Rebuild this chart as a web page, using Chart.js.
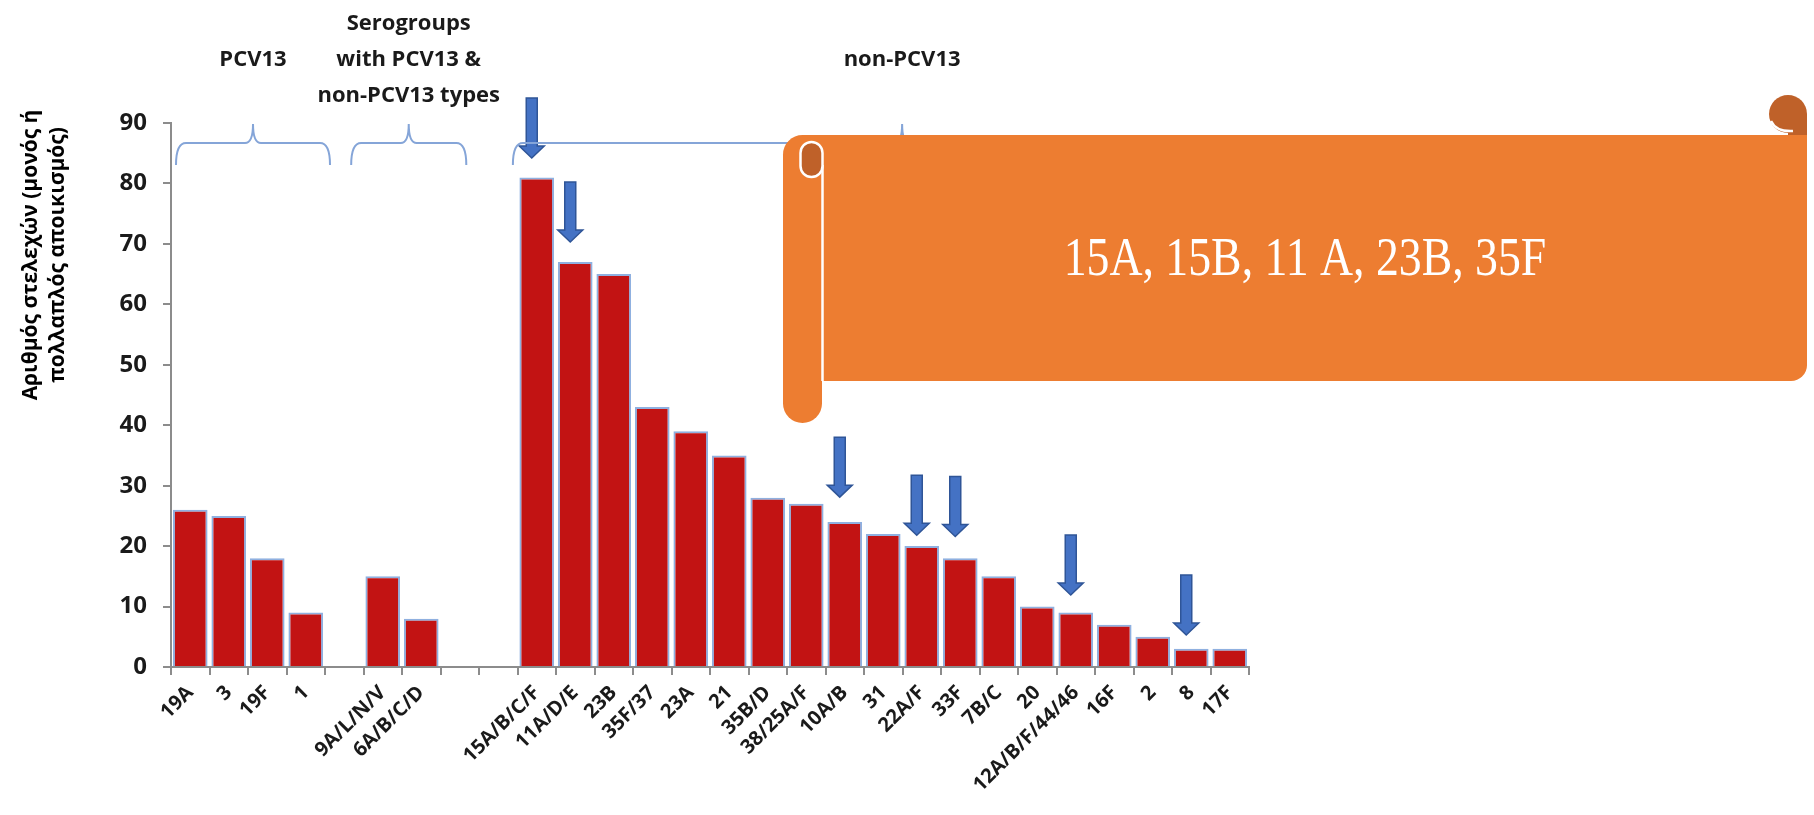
<!DOCTYPE html>
<html>
<head>
<meta charset="utf-8">
<script src="https://cdn.jsdelivr.net/npm/chart.js@4.4.1/dist/chart.umd.min.js"></script>
<style>
  html, body { margin: 0; padding: 0; background: #fff; }
  #wrap { width: 1814px; height: 815px; }
</style>
</head>
<body>
<div id="wrap"><canvas id="serotypeChart" width="1814" height="815"></canvas></div>
<script>
const categories = ["19A", "3", "19F", "1", "", "9A/L/N/V", "6A/B/C/D", "", "",
  "15A/B/C/F", "11A/D/E", "23B", "35F/37", "23A", "21", "35B/D", "38/25A/F", "10A/B",
  "31", "22A/F", "33F", "7B/C", "20", "12A/B/F/44/46", "16F", "2", "8", "17F"];
const counts = [26, 25, 18, 9, null, 15, 8, null, null,
  81, 67, 65, 43, 39, 35, 28, 27, 24,
  22, 20, 18, 15, 10, 9, 7, 5, 3, 3];
const yTicks = [0, 10, 20, 30, 40, 50, 60, 70, 80, 90];
const yTitle = ["Αριθμός στελεχών (μονός ή", "πολλαπλός αποικισμός)"];

// serotype groups shown above the bars
const groupNames = [["PCV13"], ["Serogroups", "with PCV13 &", "non-PCV13 types"], ["non-PCV13"]];
// blue arrows: which bar, and the value where the arrow tip sits
const arrowLabels = ["15A/B/C/F", "11A/D/E", "10A/B", "22A/F", "33F", "12A/B/F/44/46", "8"];
const arrowTips = [84.2, 70.3, 28.1, 21.8, 21.6, 11.9, 5.3];
const bannerText = "15A, 15B, 11 A, 23B, 35F";

Chart.defaults.font.family = "'Open Sans', sans-serif";

// brace extents in category index units
const braceSpans = [[-0.37, 3.63], [4.18, 7.17], [8.38, 28.6]];

function drawArrow(ctx, cx, tipY) {
  const len = 60, shaft = 5.5, head = 12.5, headH = 12;
  ctx.beginPath();
  ctx.moveTo(cx - shaft, tipY - len);
  ctx.lineTo(cx + shaft, tipY - len);
  ctx.lineTo(cx + shaft, tipY - headH);
  ctx.lineTo(cx + head, tipY - headH);
  ctx.lineTo(cx, tipY);
  ctx.lineTo(cx - head, tipY - headH);
  ctx.lineTo(cx - shaft, tipY - headH);
  ctx.closePath();
  ctx.fillStyle = "#4472C4";
  ctx.fill();
  ctx.strokeStyle = "#2F5597";
  ctx.lineWidth = 1.5;
  ctx.stroke();
}

function drawBrace(ctx, x0, x1, yLine, yEnd, yPeak) {
  const xp = (x0 + x1) / 2;
  ctx.beginPath();
  ctx.moveTo(x0, yEnd);
  ctx.quadraticCurveTo(x0, yLine, x0 + 10, yLine);
  ctx.lineTo(xp - 8, yLine);
  ctx.quadraticCurveTo(xp, yLine, xp, yPeak);
  ctx.quadraticCurveTo(xp, yLine, xp + 8, yLine);
  ctx.lineTo(x1 - 10, yLine);
  ctx.quadraticCurveTo(x1, yLine, x1, yEnd);
  ctx.stroke();
}

function drawBanner(ctx) {
  const orange = "#ED7D31", dark = "#BF6129";
  ctx.save();
  // top right curl
  ctx.fillStyle = dark;
  ctx.beginPath();
  ctx.arc(1788, 114, 19, 0, Math.PI * 2);
  ctx.fill();
  ctx.fillRect(1788, 114, 19, 21);
  // main panel
  ctx.fillStyle = orange;
  ctx.beginPath();
  ctx.roundRect(803, 135, 1004, 246, [0, 0, 16, 0]);
  ctx.fill();
  // left roll
  ctx.beginPath();
  ctx.roundRect(783, 135, 39, 288, [19.5, 0, 19.5, 19.5]);
  ctx.fill();
  ctx.strokeStyle = "#fff";
  ctx.lineWidth = 2.5;
  ctx.beginPath();
  ctx.moveTo(822.5, 165);
  ctx.lineTo(822.5, 381);
  ctx.stroke();
  // left curl
  ctx.beginPath();
  ctx.roundRect(800.5, 142, 22, 35, 11);
  ctx.fillStyle = dark;
  ctx.fill();
  ctx.stroke();
  // notch on the right curl
  ctx.beginPath();
  ctx.moveTo(1771, 121);
  ctx.quadraticCurveTo(1776, 132, 1793, 131);
  ctx.stroke();
  // text, a little condensed like the original
  ctx.fillStyle = "#fff";
  ctx.font = "52px 'Liberation Serif', serif";
  ctx.textAlign = "center";
  ctx.textBaseline = "middle";
  ctx.translate(1305, 261);
  ctx.scale(0.88, 1.05);
  ctx.fillText(bannerText, 0, 0);
  ctx.restore();
}

const annotations = {
  id: "annotations",
  afterDatasetsDraw(chart) {
    const { ctx, scales: { x, y } } = chart;
    ctx.save();
    arrowLabels.forEach((lab, i) => {
      const cx = x.getPixelForValue(categories.indexOf(lab)) - 5;
      drawArrow(ctx, cx, y.getPixelForValue(arrowTips[i]));
    });
    ctx.restore();
  },
  afterDraw(chart) {
    const { ctx, chartArea, scales: { x } } = chart;
    const top = chartArea.top;
    ctx.save();
    // y axis title, two centred lines
    ctx.translate(31, 255);
    ctx.rotate(-Math.PI / 2);
    ctx.fillStyle = "#000";
    ctx.font = "bold 21px 'Open Sans'";
    ctx.textAlign = "center";
    ctx.textBaseline = "middle";
    yTitle.forEach((t, k) => ctx.fillText(t, 0, k * 27));
    ctx.restore();

    ctx.save();
    ctx.strokeStyle = "#85A5D8";
    ctx.lineWidth = 2;
    braceSpans.forEach(([a, b], i) => {
      const x0 = x.getPixelForValue(a), x1 = x.getPixelForValue(b);
      drawBrace(ctx, x0, x1, top + 20, top + 42, top + 1);
      const lines = groupNames[i];
      ctx.fillStyle = "#1a1a1a";
      ctx.font = "bold 22px 'Open Sans'";
      ctx.textAlign = "center";
      ctx.textBaseline = "middle";
      const cy = top - 63;
      lines.forEach((t, k) => {
        ctx.fillText(t, (x0 + x1) / 2, cy + (k - (lines.length - 1) / 2) * 36);
      });
    });
    ctx.restore();
    drawBanner(ctx);
  }
};

const ctx = document.getElementById("serotypeChart").getContext("2d");
new Chart(ctx, {
  type: "bar",
  data: {
    labels: categories,
    datasets: [{
      data: counts,
      backgroundColor: "#C21313",
      borderColor: "#8FB0E0",
      borderWidth: 2,
      barPercentage: 0.9,
      categoryPercentage: 1
    }]
  },
  options: {
    responsive: false,
    animation: false,
    layout: { padding: { left: 0, right: 565, top: 123, bottom: 0 } },
    plugins: { legend: { display: false }, tooltip: { enabled: false } },
    scales: {
      x: {
        grid: { drawOnChartArea: false, tickLength: 8, color: "#8c8c8c", lineWidth: 2 },
        border: { color: "#8c8c8c", width: 2 },
        ticks: {
          autoSkip: false, minRotation: 45, maxRotation: 45, padding: 6,
          color: "#1a1a1a", font: { weight: "bold", size: 20 }
        },
        afterFit: s => { s.height = 815 - 667; }
      },
      y: {
        min: 0, max: 90,
        afterBuildTicks: s => { s.ticks = yTicks.map(v => ({ value: v })); },
        grid: { drawOnChartArea: false, tickLength: 8, color: "#8c8c8c", lineWidth: 2 },
        border: { color: "#8c8c8c", width: 2 },
        ticks: { padding: 16, color: "#1a1a1a", font: { weight: "bold", size: 24 } },
        afterFit: s => { s.width = 171; }
      }
    }
  },
  plugins: [annotations]
});
</script>
</body>
</html>
